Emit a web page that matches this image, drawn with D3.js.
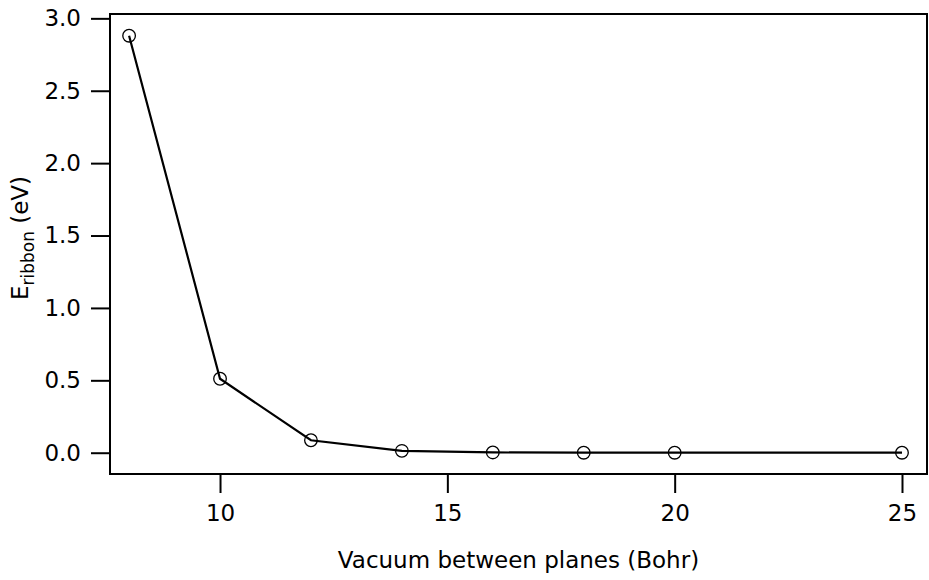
<!DOCTYPE html>
<html>
<head>
<meta charset="utf-8">
<script src="https://cdn.jsdelivr.net/npm/d3@7"></script>
<style>
  html, body { margin: 0; padding: 0; background: #fff; }
  svg { display: block; font-family: "DejaVu Sans", Verdana, sans-serif; }
</style>
</head>
<body>
<svg id="chart" width="929" height="580"></svg>
<script>
// Ribbon energy versus vacuum spacing
const vacuum = [8, 10, 12, 14, 16, 18, 20, 25];
const energy = [2.88, 0.511, 0.086, 0.013, 0.002, 0.0, 0.0, 0.0];
const xTicks = [10, 15, 20, 25];
const yTicks = [0.0, 0.5, 1.0, 1.5, 2.0, 2.5, 3.0];

const svg = d3.select("#chart");
const plotLeft = 110, plotRight = 927, plotTop = 14, plotBottom = 474;

const x = d3.scaleLinear().domain([7.58, 25.55]).range([plotLeft, plotRight]);
const y = d3.scaleLinear().domain([-0.147, 3.03]).range([plotBottom, plotTop]);

// frame
svg.append("rect")
  .attr("x", plotLeft).attr("y", plotTop)
  .attr("width", plotRight - plotLeft).attr("height", plotBottom - plotTop)
  .attr("fill", "none").attr("stroke", "#000").attr("stroke-width", 2);

const fontSize = 23;

const yAxis = svg.append("g")
  .attr("transform", `translate(${plotLeft},0)`)
  .call(d3.axisLeft(y).tickValues(yTicks).tickFormat(d3.format(".1f")).tickSize(19).tickPadding(10));
const xAxis = svg.append("g")
  .attr("transform", `translate(0,${plotBottom})`)
  .call(d3.axisBottom(x).tickValues(xTicks).tickFormat(d3.format("d")).tickSize(19).tickPadding(12));

[yAxis, xAxis].forEach(g => {
  g.select(".domain").remove();
  g.selectAll(".tick line").attr("stroke", "#000").attr("stroke-width", 2);
  g.selectAll(".tick text")
    .attr("fill", "#000")
    .style("font-family", '"DejaVu Sans", Verdana, sans-serif')
    .style("font-size", fontSize + "px");
});

// line and open markers
const line = d3.line().x((d, i) => x(vacuum[i])).y(d => y(d));
svg.append("path")
  .datum(energy)
  .attr("d", line)
  .attr("fill", "none").attr("stroke", "#000").attr("stroke-width", 2.2);

svg.append("g").selectAll("circle")
  .data(energy)
  .join("circle")
  .attr("cx", (d, i) => x(vacuum[i]))
  .attr("cy", d => y(d))
  .attr("r", 6.3)
  .attr("fill", "none").attr("stroke", "#000").attr("stroke-width", 1.3);

// axis titles
svg.append("text")
  .attr("x", (plotLeft + plotRight) / 2).attr("y", 568)
  .attr("text-anchor", "middle")
  .style("font-size", fontSize + "px")
  .text("Vacuum between planes (Bohr)");

const yl = svg.append("text")
  .attr("transform", `translate(28,238) rotate(-90)`)
  .attr("text-anchor", "middle")
  .style("font-size", fontSize + "px");
yl.append("tspan").text("E");
yl.append("tspan").attr("dy", 6).style("font-size", "17px").text("ribbon");
yl.append("tspan").attr("dy", -6).text(" (eV)");
</script>
</body>
</html>
